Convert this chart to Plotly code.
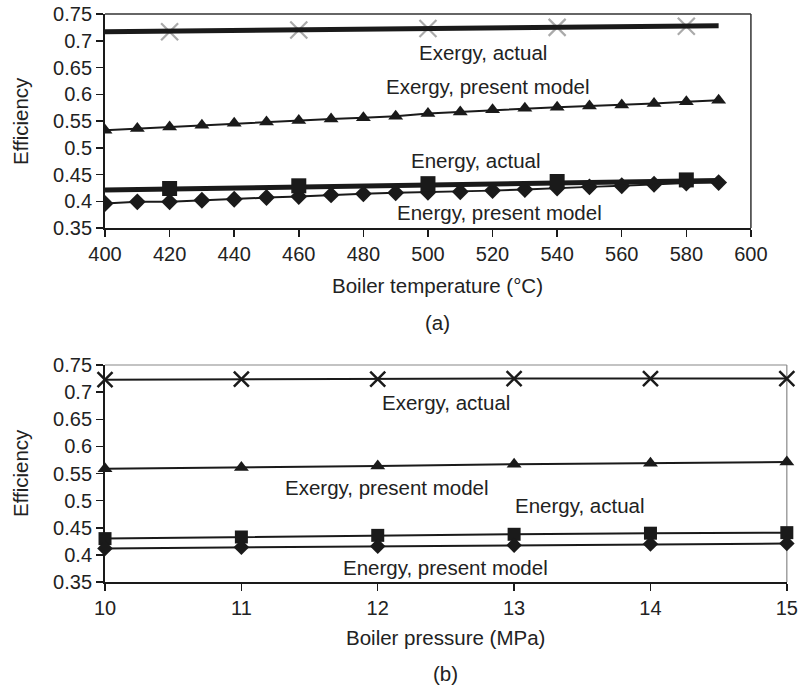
import plotly.graph_objects as go

# ---------------- (a) Boiler temperature ----------------
temp_model = [400, 410, 420, 430, 440, 450, 460, 470, 480, 490,
              500, 510, 520, 530, 540, 550, 560, 570, 580, 590]
exergy_model_a = [0.533, 0.536, 0.539, 0.542, 0.546, 0.548, 0.551, 0.554, 0.556, 0.559,
                  0.564, 0.567, 0.571, 0.574, 0.576, 0.578, 0.580, 0.583, 0.586, 0.589]
energy_model_a = [0.396, 0.399, 0.399, 0.402, 0.404, 0.407, 0.409, 0.412, 0.414, 0.416,
                  0.417, 0.418, 0.420, 0.422, 0.425, 0.427, 0.429, 0.432, 0.434, 0.435]
temp_actual = [420, 460, 500, 540, 580]
exergy_actual_a = [0.717, 0.720, 0.723, 0.725, 0.727]
energy_actual_a = [0.424, 0.429, 0.433, 0.437, 0.440]
temp_fit = [400, 590]
exergy_fit_a = [0.717, 0.728]
energy_fit_a = [0.421, 0.439]

# ---------------- (b) Boiler pressure ----------------
pressure = [10, 11, 12, 13, 14, 15]
exergy_actual_b = [0.723, 0.724, 0.724, 0.725, 0.725, 0.725]
exergy_model_b = [0.559, 0.561, 0.564, 0.567, 0.569, 0.571]
energy_actual_b = [0.430, 0.433, 0.436, 0.438, 0.440, 0.441]
energy_model_b = [0.412, 0.414, 0.416, 0.418, 0.420, 0.421]

y_ticks = [0.35, 0.4, 0.45, 0.5, 0.55, 0.6, 0.65, 0.7, 0.75]
y_text = ["0.35", "0.4", "0.45", "0.5", "0.55", "0.6", "0.65", "0.7", "0.75"]
xa_ticks = [400, 420, 440, 460, 480, 500, 520, 540, 560, 580, 600]
xb_ticks = [10, 11, 12, 13, 14, 15]

FONT = "Liberation Sans, Arial, sans-serif"
TXT = "#222222"
BLK = "#1a1a1a"

fig = go.Figure()

# (a) traces
fig.add_trace(go.Scatter(x=temp_actual, y=exergy_actual_a, mode="markers",
                         marker=dict(symbol="x-thin", size=17, line=dict(width=2.2, color="#aaaaaa")),
                         xaxis="x", yaxis="y", showlegend=False))
fig.add_trace(go.Scatter(x=temp_fit, y=exergy_fit_a, mode="lines",
                         line=dict(color=BLK, width=5), xaxis="x", yaxis="y", showlegend=False))
fig.add_trace(go.Scatter(x=temp_model, y=exergy_model_a, mode="lines+markers",
                         line=dict(color=BLK, width=2),
                         marker=dict(symbol="triangle-up", size=13, color=BLK),
                         xaxis="x", yaxis="y", showlegend=False))
fig.add_trace(go.Scatter(x=temp_model, y=energy_model_a, mode="lines+markers",
                         line=dict(color=BLK, width=2),
                         marker=dict(symbol="diamond", size=13, color=BLK),
                         xaxis="x", yaxis="y", showlegend=False))
fig.add_trace(go.Scatter(x=temp_fit, y=energy_fit_a, mode="lines",
                         line=dict(color=BLK, width=5), xaxis="x", yaxis="y", showlegend=False))
fig.add_trace(go.Scatter(x=temp_actual, y=energy_actual_a, mode="markers",
                         marker=dict(symbol="square", size=15, color=BLK),
                         xaxis="x", yaxis="y", showlegend=False))

# (b) traces
fig.add_trace(go.Scatter(x=pressure, y=exergy_actual_b, mode="lines+markers",
                         line=dict(color=BLK, width=2),
                         marker=dict(symbol="x-thin", size=15, line=dict(width=2.5, color=BLK)),
                         xaxis="x2", yaxis="y2", showlegend=False, cliponaxis=False))
fig.add_trace(go.Scatter(x=pressure, y=exergy_model_b, mode="lines+markers",
                         line=dict(color=BLK, width=2),
                         marker=dict(symbol="triangle-up", size=13, color=BLK),
                         xaxis="x2", yaxis="y2", showlegend=False, cliponaxis=False))
fig.add_trace(go.Scatter(x=pressure, y=energy_actual_b, mode="lines+markers",
                         line=dict(color=BLK, width=2),
                         marker=dict(symbol="square", size=13, color=BLK),
                         xaxis="x2", yaxis="y2", showlegend=False, cliponaxis=False))
fig.add_trace(go.Scatter(x=pressure, y=energy_model_b, mode="lines+markers",
                         line=dict(color=BLK, width=2),
                         marker=dict(symbol="diamond", size=12, color=BLK),
                         xaxis="x2", yaxis="y2", showlegend=False, cliponaxis=False))

axis_common = dict(showgrid=False, zeroline=False, showline=True, linecolor=BLK, linewidth=2,
                   ticks="outside", ticklen=7, tickwidth=1.5, tickcolor=BLK, automargin=False,
                   tickfont=dict(family=FONT, size=20, color=TXT))

fig.update_layout(
    width=798, height=687,
    margin=dict(l=0, r=0, t=0, b=0, autoexpand=False),
    paper_bgcolor="white", plot_bgcolor="white",
    xaxis=dict(domain=[0.1316, 0.941], range=[400, 600], tickvals=xa_ticks, anchor="y", **axis_common),
    yaxis=dict(domain=[0.668, 0.9796], range=[0.35, 0.75], tickvals=y_ticks, ticktext=y_text,
               anchor="x", **axis_common),
    xaxis2=dict(domain=[0.1316, 0.986], range=[10, 15], tickvals=xb_ticks, anchor="y2", **axis_common),
    yaxis2=dict(domain=[0.1528, 0.4687], range=[0.35, 0.75], tickvals=y_ticks, ticktext=y_text,
                anchor="x2", **axis_common),
    shapes=[
        dict(type="line", xref="x domain", yref="y domain", x0=0, x1=1, y0=1, y1=1,
             line=dict(color="#333333", width=1.5)),
        dict(type="line", xref="x domain", yref="y domain", x0=1, x1=1, y0=0, y1=1,
             line=dict(color="#333333", width=1.5)),
        dict(type="line", xref="x2 domain", yref="y2 domain", x0=0, x1=1, y0=1, y1=1,
             line=dict(color="#888888", width=1.2), layer="below"),
        dict(type="line", xref="x2 domain", yref="y2 domain", x0=1, x1=1, y0=0, y1=1,
             line=dict(color="#888888", width=1.2), layer="below"),
    ],
)

lab = dict(family=FONT, size=20.5, color=TXT)
annots = [
    # (a) series labels
    dict(x=517, y=0.679, xref="x", yref="y", text="Exergy, actual"),
    dict(x=518.5, y=0.615, xref="x", yref="y", text="Exergy, present model"),
    dict(x=515, y=0.477, xref="x", yref="y", text="Energy, actual"),
    dict(x=522, y=0.380, xref="x", yref="y", text="Energy, present model"),
    # (b) series labels
    dict(x=12.5, y=0.680, xref="x2", yref="y2", text="Exergy, actual"),
    dict(x=12.07, y=0.525, xref="x2", yref="y2", text="Exergy, present model"),
    dict(x=13.48, y=0.4916, xref="x2", yref="y2", text="Energy, actual"),
    dict(x=12.5, y=0.377, xref="x2", yref="y2", text="Energy, present model"),
    # axis titles
    dict(x=437 / 798, y=1 - 285 / 687, xref="paper", yref="paper", text="Boiler temperature (°C)"),
    dict(x=437 / 798, y=1 - 322 / 687, xref="paper", yref="paper", text="(a)"),
    dict(x=445 / 798, y=1 - 637 / 687, xref="paper", yref="paper", text="Boiler pressure (MPa)"),
    dict(x=445 / 798, y=1 - 673 / 687, xref="paper", yref="paper", text="(b)"),
    dict(x=20 / 798, y=1 - 121 / 687, xref="paper", yref="paper", text="Efficiency", textangle=-90),
    dict(x=20 / 798, y=1 - 473 / 687, xref="paper", yref="paper", text="Efficiency", textangle=-90),
]
for a in annots:
    a.update(showarrow=False, font=lab, xanchor="center", yanchor="middle")
fig.update_layout(annotations=annots)

fig.write_html("out.html",
               config={"displayModeBar": False, "staticPlot": True},
               post_script="document.body.style.margin='0';document.body.style.padding='0';"
                           "document.body.style.overflow='hidden';")
